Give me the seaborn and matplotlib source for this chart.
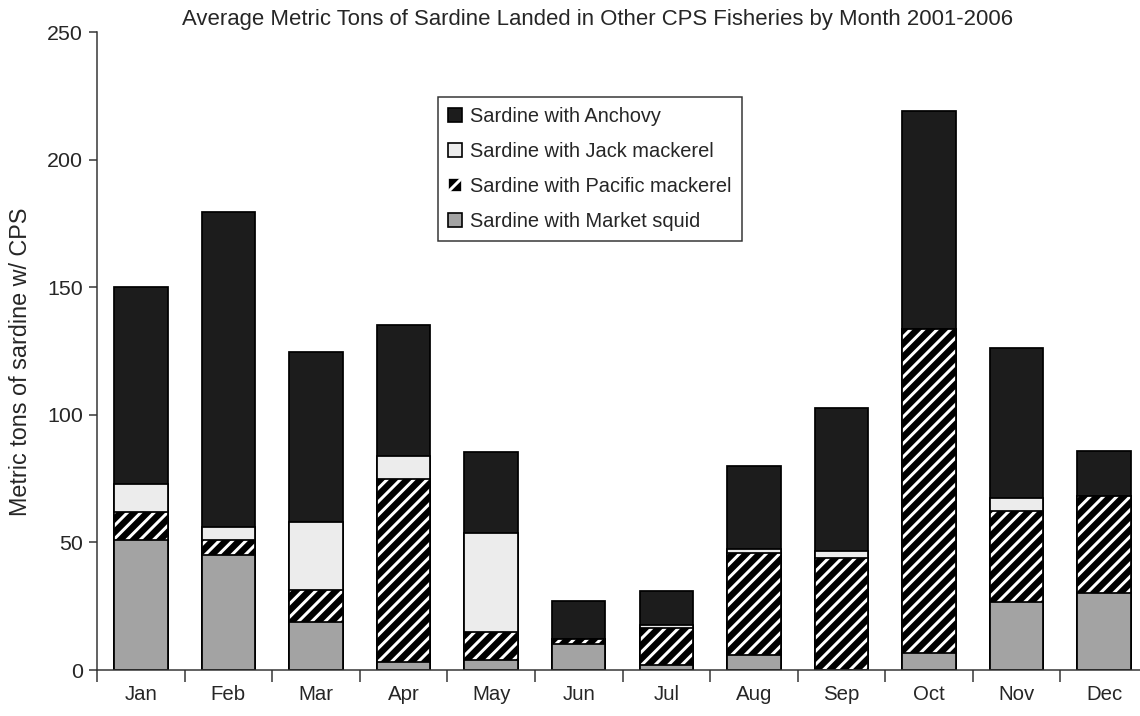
import numpy as np
import matplotlib
matplotlib.use('Agg')
import matplotlib.pyplot as plt
from matplotlib.patches import Patch
from matplotlib import font_manager
import seaborn as sns

sns.set_style('ticks')
plt.rcParams['font.family'] = ['Liberation Sans', 'DejaVu Sans']
plt.rcParams['hatch.linewidth'] = 1.8

# average metric tons per month
months = ['Jan', 'Feb', 'Mar', 'Apr', 'May', 'Jun', 'Jul', 'Aug', 'Sep', 'Oct', 'Nov', 'Dec']
squid = [51, 45, 19, 3, 4, 10, 2, 6, 0, 6.5, 26.5, 30]
pacific = [11, 6, 12.5, 72, 11, 2, 14.5, 40, 44, 127, 36, 38]
jack = [11, 5, 26.5, 9, 38.5, 0, 1, 1.3, 2.5, 0, 5, 0]
anchovy = [77, 123.5, 66.5, 51, 32, 15, 13.5, 32.5, 56, 85.5, 58.5, 18]

# cumulative tops so layers can be drawn from the back to the front
c_squid = np.array(squid)
c_pac = c_squid + np.array(pacific)
c_jack = c_pac + np.array(jack)
c_anch = c_jack + np.array(anchovy)

DPI = 120
fig = plt.figure(figsize=(1140/DPI, 716/DPI), dpi=DPI)
ax = fig.add_axes([97/1140, 46/716, (1148-97)/1140, 638/716])

names = {f.name for f in font_manager.fontManager.ttflist}
narrow = ['Liberation Sans Narrow', 'Liberation Sans'] if 'Liberation Sans Narrow' in names else ['Liberation Sans']

w = 0.61
lw = 1.05
sns.barplot(x=months, y=c_anch, color='#1c1c1c', saturation=1, width=w,
            edgecolor='black', linewidth=lw, ax=ax)
sns.barplot(x=months, y=c_jack, color='#ececec', saturation=1, width=w,
            edgecolor='black', linewidth=lw, ax=ax)
# hatched layer: white stripes on black, outline added after
sns.barplot(x=months, y=c_pac, color='black', saturation=1, width=w,
            edgecolor='white', linewidth=0, hatch='///', ax=ax)
sns.barplot(x=months, y=c_pac, fill=False, width=w,
            edgecolor='black', linewidth=lw, ax=ax)
sns.barplot(x=months, y=c_squid, color='#a3a3a3', saturation=1, width=w,
            edgecolor='black', linewidth=lw, ax=ax)

ax.set_ylim(0, 250)
ax.set_xlim(-0.5, 11.5)
ax.set_yticks(range(0, 251, 50))
ax.set_xticks(range(12))
ax.set_xticklabels(months, family=narrow, fontsize=12.2)
ax.set_yticklabels([str(v) for v in range(0, 251, 50)], family=narrow, fontsize=12.8)
ax.set_xticks(np.arange(-0.5, 12, 1), minor=True)
ax.tick_params(axis='x', which='major', length=0, pad=9)
ax.tick_params(axis='x', which='minor', length=7, width=0.9, color='#333333')
ax.tick_params(axis='y', length=5, width=0.9, color='#333333', pad=3.5)
ax.set_xlabel('')
ax.set_ylabel('Metric tons of sardine w/ CPS', fontsize=14)
ax.yaxis.set_label_coords(-0.062, 0.483)
sns.despine(ax=ax)
for s in ['left', 'bottom']:
    ax.spines[s].set_color('#333333')
    ax.spines[s].set_linewidth(0.9)

fig.text(598/1140, 1-20/716, 'Average Metric Tons of Sardine Landed in Other CPS Fisheries by Month 2001-2006',
         ha='center', va='center', family=narrow, fontsize=13.3)

handles = [Patch(facecolor='#1c1c1c', edgecolor='black', label='Sardine with Anchovy'),
           Patch(facecolor='#ececec', edgecolor='black', label='Sardine with Jack mackerel'),
           Patch(facecolor='black', edgecolor='white', hatch='//', label='Sardine with Pacific mackerel'),
           Patch(facecolor='#a3a3a3', edgecolor='black', label='Sardine with Market squid')]
leg = ax.legend(handles=handles, loc='upper left', bbox_to_anchor=(438/1140, 1-97/716),
                bbox_transform=fig.transFigure, borderaxespad=0, fancybox=False,
                fontsize=12, handlelength=0.7, handleheight=0.7, handletextpad=0.4,
                labelspacing=0.8, borderpad=0.5, framealpha=1)
leg.get_frame().set_edgecolor('#333333')
leg.get_frame().set_linewidth(0.9)

fig.savefig('out.png', dpi=DPI)
